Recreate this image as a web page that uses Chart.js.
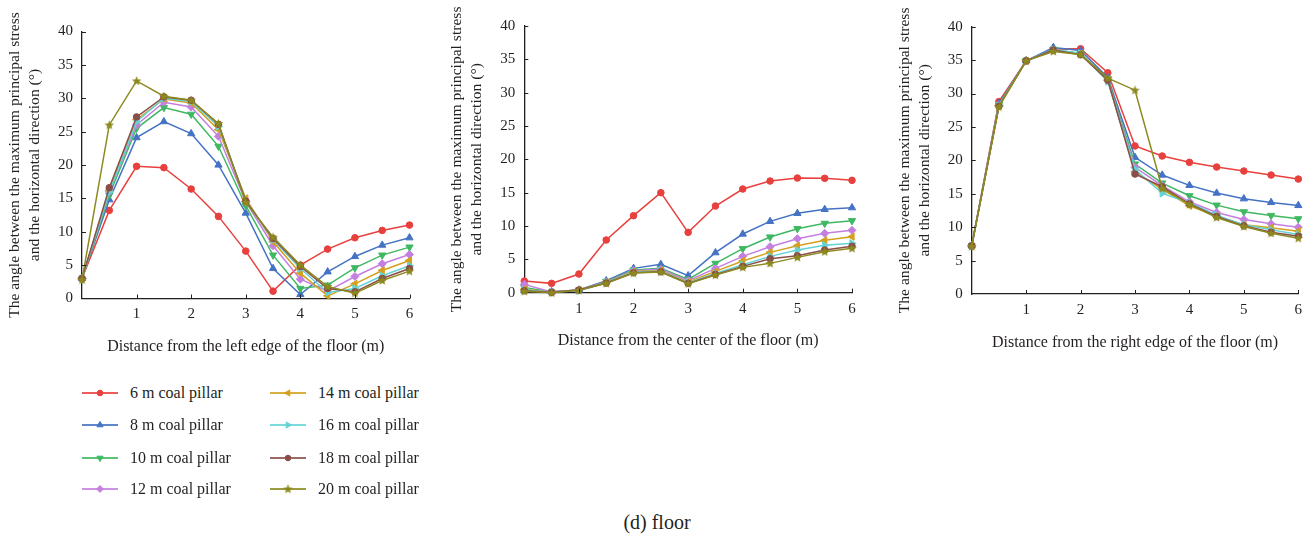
<!DOCTYPE html>
<html>
<head>
<meta charset="utf-8">
<script src="https://cdn.jsdelivr.net/npm/chart.js@4.4.1/dist/chart.umd.min.js"></script>
<style>
  html, body { margin: 0; padding: 0; background: #fff; }
  #wrap { position: relative; width: 1314px; height: 540px; overflow: hidden;
          font-family: 'Liberation Serif', 'Times New Roman', serif; color: #231f20; }
  canvas.panel { position: absolute; top: 0; }
  .leg { position: absolute; display: flex; align-items: center; height: 20px; font-size: 16px; white-space: nowrap; }
  .leg canvas { margin-right: 12px; }
  #caption { position: absolute; left: 0; top: 511px; width: 1314px; text-align: center; font-size: 20px; }
</style>
</head>
<body>
<div id="wrap">
  <canvas id="left" class="panel" width="440" height="380" style="left:0px"></canvas>
  <canvas id="center" class="panel" width="440" height="380" style="left:440px"></canvas>
  <canvas id="right" class="panel" width="434" height="380" style="left:880px"></canvas>
  <div id="legend"></div>
  <div id="caption">(d) floor</div>
</div>
<script>
// Distance along the floor (m)
const distance = [0, 0.5, 1, 1.5, 2, 2.5, 3, 3.5, 4, 4.5, 5, 5.5, 6];

// Coal pillar widths (m)
const pillarWidths = [6, 8, 10, 12, 14, 16, 18, 20];

// Angle (°) between max principal stress and horizontal, measured from the left edge of the floor
const left6  = [3.0, 13.2, 19.8, 19.6, 16.4, 12.3, 7.1, 1.1, 5.0, 7.4, 9.1, 10.2, 11.0];
const left8  = [3.0, 14.8, 24.1, 26.5, 24.7, 20.0, 12.8, 4.5, 0.6, 4.0, 6.3, 8.0, 9.1];
const left10 = [2.9, 15.5, 25.5, 28.6, 27.6, 22.8, 13.9, 6.5, 1.5, 2.0, 4.6, 6.5, 7.7];
const left12 = [3.0, 16.0, 26.0, 29.4, 28.7, 24.3, 14.5, 7.9, 2.9, 1.1, 3.3, 5.2, 6.6];
const left14 = [2.9, 16.2, 26.8, 29.9, 29.3, 25.3, 15.0, 8.5, 3.8, 0.4, 2.2, 4.2, 5.7];
const left16 = [3.0, 16.0, 26.5, 30.0, 29.5, 25.8, 14.7, 8.8, 4.5, 0.9, 1.5, 3.4, 4.9];
const left18 = [3.0, 16.6, 27.2, 30.2, 29.7, 26.1, 14.6, 9.0, 4.8, 1.5, 1.0, 3.0, 4.5];
const left20 = [2.8, 26.0, 32.6, 30.3, 29.7, 26.2, 14.4, 9.2, 5.0, 1.8, 0.8, 2.7, 4.1];

// ... measured from the center of the floor
const center6  = [1.75, 1.4, 2.8, 7.9, 11.55, 15.0, 9.05, 13.0, 15.55, 16.75, 17.2, 17.15, 16.85];
const center8  = [0.3, 0.15, 0.4, 1.8, 3.65, 4.25, 2.55, 6.0, 8.8, 10.7, 11.9, 12.5, 12.75];
const center10 = [0.8, 0.1, 0.4, 1.7, 3.4, 3.65, 2.0, 4.4, 6.6, 8.35, 9.6, 10.4, 10.8];
const center12 = [1.25, 0.1, 0.4, 1.6, 3.3, 3.5, 1.8, 3.65, 5.45, 6.9, 8.1, 8.9, 9.35];
const center14 = [0.5, 0.05, 0.4, 1.5, 3.2, 3.3, 1.6, 3.2, 4.75, 6.05, 7.05, 7.85, 8.4];
const center16 = [0.4, 0.1, 0.3, 1.5, 3.1, 3.2, 1.5, 2.9, 4.2, 5.45, 6.4, 7.1, 7.4];
const center18 = [0.3, 0.05, 0.4, 1.45, 3.0, 3.15, 1.4, 2.75, 3.95, 5.1, 5.55, 6.4, 6.95];
const center20 = [0.2, 0.0, 0.35, 1.4, 2.95, 3.1, 1.35, 2.65, 3.8, 4.4, 5.3, 6.15, 6.65];

// ... measured from the right edge of the floor
const right6  = [7.2, 28.8, 34.9, 36.65, 36.7, 33.1, 22.15, 20.65, 19.7, 19.0, 18.4, 17.8, 17.2];
const right8  = [7.2, 28.5, 34.9, 36.9, 36.45, 32.4, 20.45, 17.8, 16.25, 15.1, 14.25, 13.7, 13.25];
const right10 = [7.2, 28.3, 34.9, 36.6, 36.0, 32.2, 19.45, 16.6, 14.7, 13.3, 12.3, 11.75, 11.25];
const right12 = [7.2, 28.2, 34.9, 36.5, 35.9, 32.0, 18.95, 16.2, 13.8, 12.2, 11.15, 10.5, 10.0];
const right14 = [7.2, 28.2, 34.9, 36.5, 35.9, 32.0, 18.3, 15.65, 13.2, 11.65, 10.35, 9.9, 9.4];
const right16 = [7.2, 28.2, 34.9, 36.6, 36.0, 31.8, 18.65, 15.05, 13.65, 11.8, 10.35, 9.6, 8.9];
const right18 = [7.2, 28.1, 34.9, 36.5, 35.8, 32.0, 17.95, 16.05, 13.5, 11.6, 10.2, 9.25, 8.65];
const right20 = [7.1, 28.0, 34.9, 36.3, 35.85, 32.3, 30.5, 15.8, 13.4, 11.45, 10.1, 9.1, 8.35];

// Axis tick values
const xTicks = [0, 1, 2, 3, 4, 5, 6];
const yTicks = [0, 5, 10, 15, 20, 25, 30, 35, 40];

const yTitle = ['The angle between the maximum principal stress', 'and the horizontal direction (°)'];

// Series styling
const colors = ['#e8403d', '#4472c4', '#3fb862', '#c47fe0', '#d4a01f', '#64d3d6', '#8a4e48', '#8c8a1f'];
const FONT = "'Liberation Serif', 'Times New Roman', serif";
const INK = '#231f20';

function starCanvas(color) {
  const c = document.createElement('canvas');
  c.width = 11; c.height = 11;
  const g = c.getContext('2d');
  g.fillStyle = color;
  g.beginPath();
  for (let i = 0; i < 10; i++) {
    const r = i % 2 === 0 ? 5 : 2.2;
    const a = -Math.PI / 2 + i * Math.PI / 5;
    const px = 5.5 + r * Math.cos(a), py = 5.8 + r * Math.sin(a);
    if (i === 0) g.moveTo(px, py); else g.lineTo(px, py);
  }
  g.closePath();
  g.fill();
  return c;
}

const markers = [
  { pointStyle: 'circle', rotation: 0, radius: 3.3 },
  { pointStyle: 'triangle', rotation: 0, radius: 4.2 },
  { pointStyle: 'triangle', rotation: 180, radius: 4.2 },
  { pointStyle: 'rectRot', rotation: 0, radius: 4 },
  { pointStyle: 'triangle', rotation: 270, radius: 4.2 },
  { pointStyle: 'triangle', rotation: 90, radius: 4.2 },
  { pointStyle: 'circle', rotation: 0, radius: 3.3 },
  { pointStyle: starCanvas(colors[7]), rotation: 0, radius: 4 }
];

// Inward tick marks on both axes
const innerTicks = {
  id: 'innerTicks',
  afterDraw(chart) {
    const { ctx, chartArea, scales } = chart;
    ctx.save();
    ctx.strokeStyle = INK;
    ctx.lineWidth = 1;
    scales.x.ticks.forEach(t => {
      if (t.value === 0) return;
      const px = Math.round(scales.x.getPixelForValue(t.value)) + 0.5;
      ctx.beginPath(); ctx.moveTo(px, chartArea.bottom); ctx.lineTo(px, chartArea.bottom - 4); ctx.stroke();
    });
    scales.y.ticks.forEach(t => {
      if (t.value === 0) return;
      const py = Math.round(scales.y.getPixelForValue(t.value)) + 0.5;
      ctx.beginPath(); ctx.moveTo(chartArea.left, py); ctx.lineTo(chartArea.left + 4, py); ctx.stroke();
    });
    ctx.restore();
  }
};

function makePanel(id, series, xTitle, geo) {
  const canvas = document.getElementById(id);
  const W = canvas.width, H = canvas.height;
  const datasets = series.map((vals, i) => ({
    label: pillarWidths[i] + ' m coal pillar',
    data: vals.map((v, k) => ({ x: distance[k], y: v })),
    borderColor: colors[i],
    backgroundColor: colors[i],
    borderWidth: 1.5,
    pointStyle: markers[i].pointStyle,
    pointRotation: markers[i].rotation,
    pointRadius: markers[i].radius,
    pointBorderWidth: 1,
    pointBorderColor: colors[i],
    pointBackgroundColor: colors[i],
    tension: 0,
    clip: false,
    order: series.length - i
  }));
  return new Chart(canvas, {
    type: 'line',
    data: { datasets },
    plugins: [innerTicks],
    options: {
      responsive: false,
      devicePixelRatio: 1,
      animation: false,
      events: [],
      layout: { padding: { left: 0, top: geo.top, right: W - geo.right, bottom: 0 } },
      plugins: { legend: { display: false }, tooltip: { enabled: false } },
      scales: {
        x: {
          type: 'linear', min: 0, max: 6,
          afterFit: s => { s.height = H - geo.bottom; },
          afterBuildTicks: s => { s.ticks = xTicks.map(v => ({ value: v })); },
          grid: { display: false, drawTicks: false },
          border: { display: true, color: INK, width: 1.3 },
          ticks: {
            padding: 7, color: INK, font: { family: FONT, size: 15 },
            maxRotation: 0, autoSkip: false,
            callback: v => (v === 0 ? '' : String(v))
          },
          title: {
            display: true, text: xTitle, color: INK,
            font: { family: FONT, size: 16, lineHeight: 1.2 },
            padding: { top: 0, bottom: H - geo.bottom - 48.5 - 9.6 }
          }
        },
        y: {
          type: 'linear', min: 0, max: 40,
          afterFit: s => { s.width = geo.left; },
          afterBuildTicks: s => { s.ticks = yTicks.map(v => ({ value: v })); },
          grid: { display: false, drawTicks: false },
          border: { display: true, color: INK, width: 1.3 },
          ticks: { padding: 9, color: INK, font: { family: FONT, size: 15 }, autoSkip: false },
          title: {
            display: true, text: yTitle, color: INK,
            font: { family: FONT, size: 15.6, lineHeight: '20px' },
            padding: { top: geo.left - 67 - 10, bottom: 0 }
          }
        }
      }
    }
  });
}

makePanel('left', [left6, left8, left10, left12, left14, left16, left18, left20],
  'Distance from the left edge of the floor (m)',
  { left: 82, right: 409.5, top: 31.5, bottom: 298.5 });
makePanel('center', [center6, center8, center10, center12, center14, center16, center18, center20],
  'Distance from the center of the floor (m)',
  { left: 84.3, right: 412, top: 26, bottom: 292.7 });
makePanel('right', [right6, right8, right10, right12, right14, right16, right18, right20],
  'Distance from the right edge of the floor (m)',
  { left: 91.7, right: 418.3, top: 26.7, bottom: 294 });

// Legend: two columns of four, each entry a short line with its marker
const legend = document.getElementById('legend');
const rowY = [393, 425, 457.5, 489];
const colX = [82, 270];
pillarWidths.forEach((w, i) => {
  const col = Math.floor(i / 4), row = i % 4;
  const item = document.createElement('div');
  item.className = 'leg';
  item.style.left = colX[col] + 'px';
  item.style.top = (rowY[row] - 10) + 'px';
  const sw = document.createElement('canvas');
  sw.width = 36; sw.height = 14;
  const g = sw.getContext('2d');
  g.strokeStyle = colors[i];
  g.globalAlpha = 0.85;
  g.lineWidth = 2;
  g.beginPath(); g.moveTo(0, 7); g.lineTo(36, 7); g.stroke();
  g.globalAlpha = 1;
  g.fillStyle = colors[i];
  g.strokeStyle = colors[i];
  g.lineWidth = 1;
  Chart.helpers.drawPoint(g, {
    pointStyle: markers[i].pointStyle, rotation: markers[i].rotation,
    radius: markers[i].radius * 0.85, borderWidth: 1
  }, 18, 7);
  const txt = document.createElement('span');
  txt.textContent = w + ' m coal pillar';
  item.appendChild(sw);
  item.appendChild(txt);
  legend.appendChild(item);
});
</script>
</body>
</html>
